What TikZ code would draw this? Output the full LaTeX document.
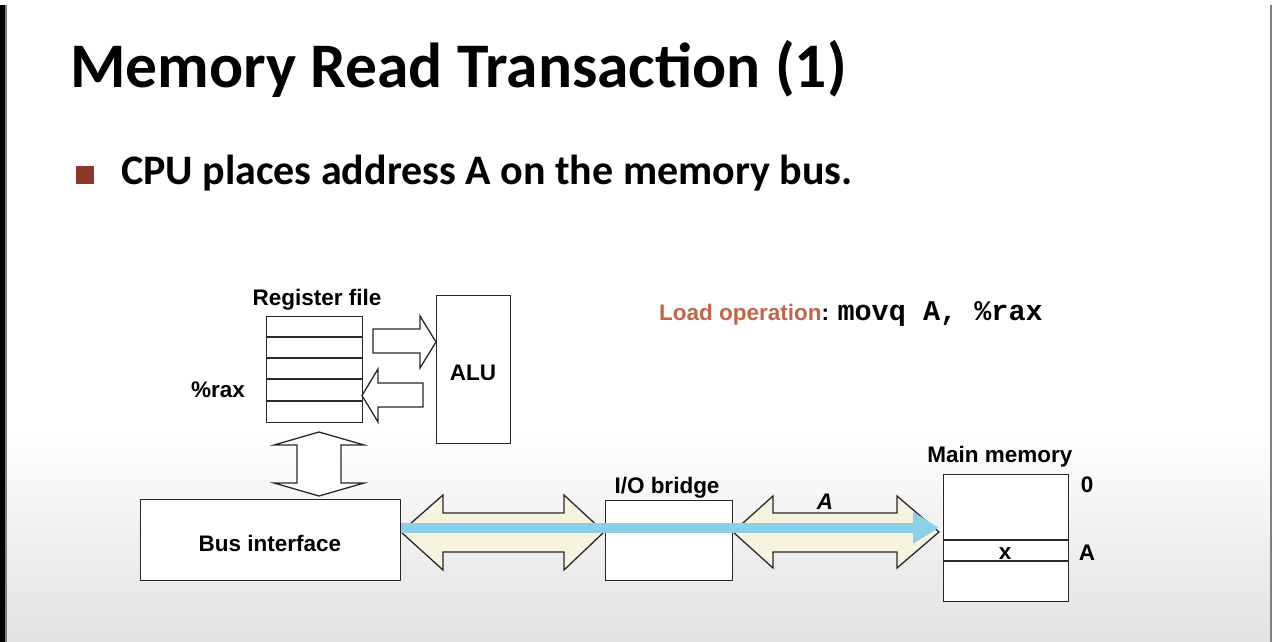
\documentclass[tikz,border=0pt]{standalone}
\usepackage{fontspec}
\setmainfont{Liberation Sans}
\newfontfamily\titlefont{Carlito}
\newfontfamily\codefont{Liberation Mono}
\usetikzlibrary{arrows.meta,calc}
\definecolor{cream}{RGB}{246,244,222}
\definecolor{busblue}{RGB}{140,208,232}
\definecolor{loadcol}{RGB}{192,102,74}
\definecolor{bulletcol}{RGB}{140,55,40}
\definecolor{edge}{RGB}{40,40,40}
\definecolor{bggray}{RGB}{226,226,226}
\tikzset{
  box/.style={draw=edge,line width=1.4pt,fill=white,inner sep=0pt,anchor=north west},
  blockarrow/.style={draw=edge,line width=1.3pt,line join=miter,fill=white},
  busarrow/.style={draw=edge,line width=1.3pt,line join=miter,fill=cream},
  lbl/.style={inner sep=0pt,font=\fontsize{22.5}{26}\selectfont\bfseries},
}
\begin{document}
\begin{tikzpicture}[x=1pt,y=-1pt]
\useasboundingbox (0,0) rectangle (1272,642);
% background
\fill[white] (0,0) rectangle (1272,642);
\shade[top color=white,bottom color=bggray] (0,430) rectangle (1272,642);
\fill[black] (0,5) rectangle (5,642);
\fill[gray] (5,5) rectangle (6.5,642);
\fill[gray] (1270,5) rectangle (1272,642);
% title and bullet
\node[inner sep=0pt,anchor=base west,font=\titlefont\fontsize{63.5}{70}\selectfont\bfseries] (title) at (70,88) {Memory Read Transaction (1)};
\fill[bulletcol] (76,166) rectangle (94,184);
\node[inner sep=0pt,anchor=base west,font=\titlefont\fontsize{42}{46}\selectfont\bfseries] (bullet) at (121,184) {CPU places address A on the memory bus.};
% load operation
\node[inner sep=0pt,anchor=base west,font=\fontsize{22.5}{26}\selectfont\bfseries] (load) at (659,320) {\textcolor{loadcol}{Load operation}: \codefont\bfseries\fontsize{28.5}{30}\selectfont movq A, \%rax};
% register file
\node[box,minimum width=96pt,minimum height=106pt] (reg) at (266,316) {};
\foreach \yy in {337,358,379,401} \draw[edge,line width=1.4pt] (266,\yy) -- (362,\yy);
\node[lbl,anchor=base] (reglbl) at (317,305) {Register file};
\node[lbl,anchor=base east] (rax) at (245,397) {\%rax};
% ALU
\node[box,minimum width=74pt,minimum height=148pt] (alu) at (436,295) {};
\node[lbl] (alulbl) at (473,373) {ALU};
% arrows reg <-> ALU
\draw[blockarrow] (373,329) -- (420,329) -- (420,316) -- (436,342) -- (420,368) -- (420,353) -- (373,353) -- cycle;
\draw[blockarrow] (423,383) -- (378,383) -- (378,369) -- (362,395.5) -- (378,422) -- (378,407) -- (423,407) -- cycle;
% vertical double arrow
\draw[blockarrow] (319,432) -- (364,445) -- (341,445) -- (341,483) -- (364,483) -- (319,496) -- (274,483) -- (297,483) -- (297,445) -- (274,445) -- cycle;
% bus interface
\node[box,minimum width=260pt,minimum height=81pt] (bus) at (140,499) {};
\node[lbl] (buslbl) at (270,543) {Bus interface};
% I/O bridge
\node[box,minimum width=127pt,minimum height=80pt] (bridge) at (605,500) {};
\node[lbl,anchor=base] (bridgelbl) at (667,493) {I/O bridge};
% main memory
\node[box,minimum width=125pt,minimum height=127pt] (mem) at (943,474) {};
\draw[edge,line width=1.4pt] (943,540) -- (1068,540);
\draw[edge,line width=1.4pt] (943,561) -- (1068,561);
\node[lbl,anchor=base] (memlbl) at (1000,462) {Main memory};
\node[lbl] (zero) at (1087,485) {0};
\node[lbl] (addrA) at (1087,553) {A};
\node[lbl,anchor=base] (xval) at (1005,559) {x};
% bus arrows
\draw[busarrow] (401,532) -- (443,495) -- (443,513) -- (564,513) -- (564,495) -- (604,532) -- (564,570) -- (564,552) -- (443,552) -- (443,570) -- cycle;
\draw[busarrow] (733,532) -- (773,496) -- (773,513) -- (897,513) -- (897,496) -- (939,532) -- (897,568) -- (897,552) -- (773,552) -- (773,568) -- cycle;
\node[lbl,font=\fontsize{22.5}{26}\selectfont\bfseries\itshape] (Alabel) at (825,502) {A};
% blue address flow
\coordinate (bstart) at ($(bus.east)+(0,-12.5)$);
\coordinate (bend) at (bstart -| mem.west);
\draw[busblue,line width=10pt,-{Triangle[length=26pt,width=30pt]},shorten >=4pt] (bstart) -- (bend);
\end{tikzpicture}
\end{document}
